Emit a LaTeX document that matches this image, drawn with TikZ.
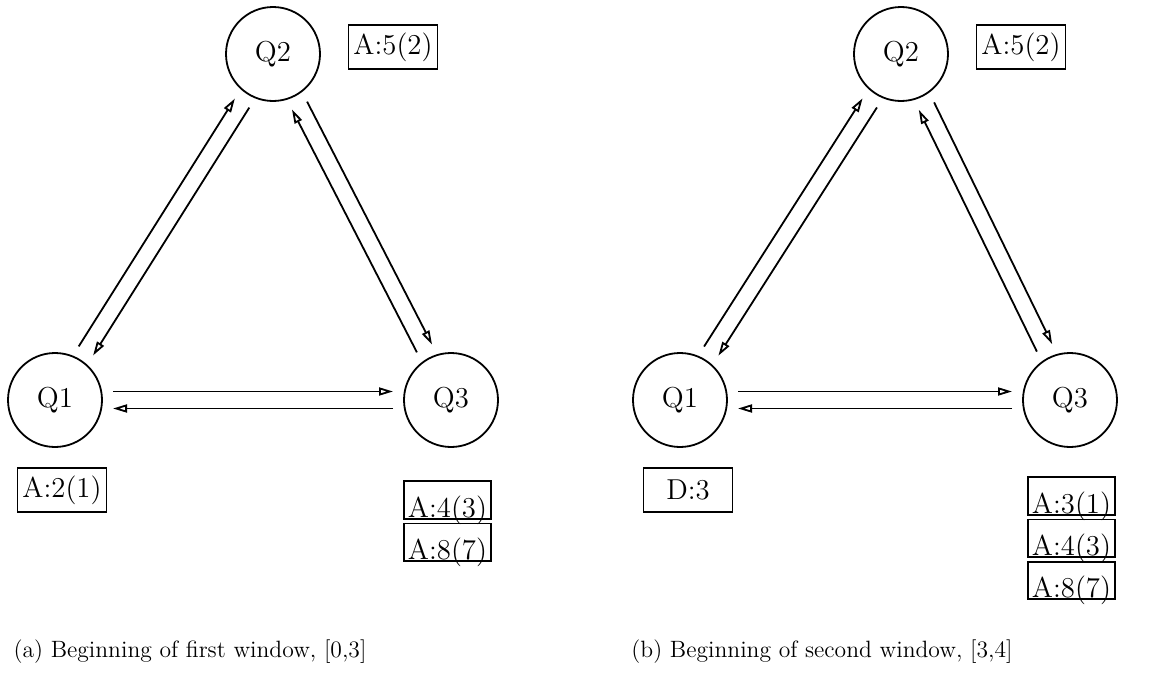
\documentclass[tikz,border=0pt]{standalone}
\usepackage{tikz}
\usetikzlibrary{positioning,calc,arrows.meta}

\tikzset{
  queue/.style={circle,draw,line width=0.9pt,minimum size=47pt,inner sep=0pt},
  tag/.style={draw,line width=0.9pt,minimum width=44.5pt,minimum height=22pt,inner sep=1pt},
  slot/.style={draw,line width=0.9pt,minimum width=43.5pt,text height=17.5pt,text depth=0pt,inner xsep=1pt,inner ysep=0.6pt},
  flow/.style={line width=0.9pt,-{Triangle[open,length=7pt,width=4pt]},shorten <=29pt,shorten >=29pt},
  caption/.style={font=\fontsize{11.8}{14}\selectfont},
}

\begin{document}
\begin{tikzpicture}[x=0.5pt,y=0.5pt,every node/.style={font=\fontsize{14.4}{17}\selectfont}]
  \useasboundingbox (0,0) rectangle (1168,-696);

  % (a) first window
  \node[queue] (a1) at (55,-400) {Q1};
  \node[queue] (a2) at (273,-54) {Q2};
  \node[queue] (a3) at (451,-400) {Q3};
  \node[tag] (a2t) at (393,-47) {A:5(2)};
  \node[tag] (a1t) at (62,-490) {A:2(1)};
  \node[slot] (a3s1) at (447.5,-500) {A:4(3)};
  \node[slot,below=1.5pt of a3s1] (a3s2) {A:8(7)};
  \node[caption] (capa) at (190,-652) {(a) Beginning of first window, [0,3]};

  % (b) second window
  \node[queue] (b1) at (680,-400) {Q1};
  \node[queue] (b2) at (901,-54) {Q2};
  \node[queue] (b3) at (1070,-400) {Q3};
  \node[tag] (b2t) at (1021,-47) {A:5(2)};
  \node[tag] (b1t) at (688,-490) {D:3};
  \node[slot] (b3s1) at (1071.5,-496) {A:3(1)};
  \node[slot,below=1.5pt of b3s1] (b3s2) {A:4(3)};
  \node[slot,below=1.5pt of b3s2] (b3s3) {A:8(7)};
  \node[caption] (capb) at (822,-652) {(b) Beginning of second window, [3,4]};

  % each link is two one-way arrows, offset to their left
  \foreach \s/\t in {a1/a2,a2/a1,a2/a3,a3/a2,a1/a3,a3/a1,b1/b2,b2/b1,b2/b3,b3/b2,b1/b3,b3/b1}
    \draw[flow] ($(\s)!4.25pt!90:(\t)$) -- ($(\t)!4.25pt!-90:(\s)$);
\end{tikzpicture}
\end{document}
